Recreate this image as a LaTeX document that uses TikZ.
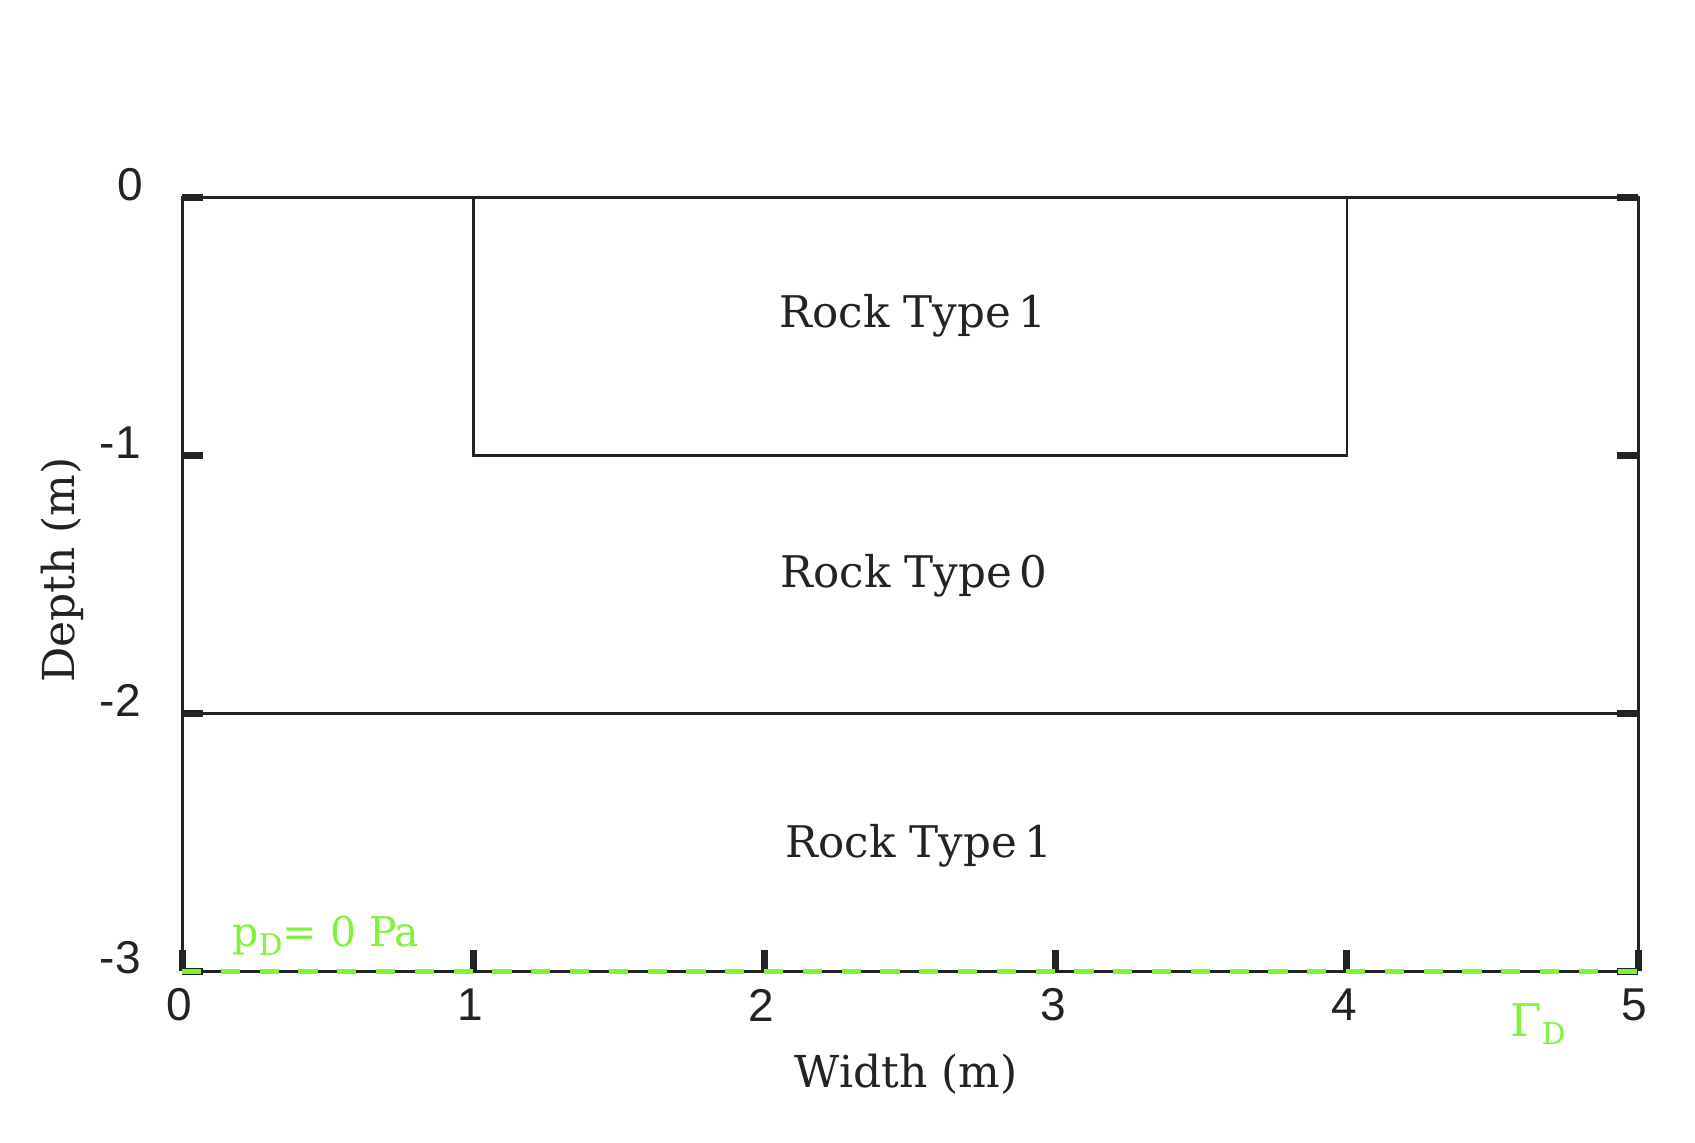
\documentclass[tikz,border=0pt]{standalone}
\usepackage{fontspec}
\setmainfont{DejaVu Serif}
\newfontfamily\ticksans{Liberation Sans}
\definecolor{bcgreen}{RGB}{128,242,58}
\definecolor{axgray}{RGB}{35,35,35}
\newcommand{\lowsub}[1]{\raisebox{-0.4ex}{\fontsize{15}{15}\selectfont #1}}
\begin{document}
\begin{tikzpicture}[x=0.5pt,y=-0.5pt,
  axisline/.style={draw=axgray,line width=1.5pt},
  innerline/.style={draw=axgray,line width=1.3pt},
  tickmark/.style={draw=axgray,line width=3.5pt},
  ticklabel/.style={font=\ticksans\fontsize{23}{26}\selectfont,text=axgray,inner sep=0pt},
  rocklabel/.style={font=\fontsize{21.8}{24}\selectfont,text=axgray,inner sep=0pt},
  axislabel/.style={font=\fontsize{22}{26}\selectfont,text=axgray,inner sep=0pt},
  bclabel/.style={font=\fontsize{20.5}{24}\selectfont,text=bcgreen,inner sep=0pt},
  bcline/.style={draw=bcgreen,line width=2.5pt,dash pattern=on 9.6pt off 9.8pt}]
\useasboundingbox (0,0) rectangle (1695,1143);
\fill[white] (0,0) rectangle (1695,1143);
% corners
\coordinate (TL) at (182,198);
\coordinate (TR) at (1638,198);
\coordinate (BL) at (182,971);
\coordinate (BR) at (1638,971);
% inner block
\coordinate (IA) at (473.2,198);
\coordinate (IB) at (1346.8,198);
\coordinate (IC) at (1346.8,455.7);
\coordinate (ID) at (473.2,455.7);
\coordinate (LL) at (182,713.3);
\coordinate (LR) at (1638,713.3);
% ticks (drawn first, under lines)
\foreach \yy in {198,455.7,713.3,971}{
  \draw[tickmark] (182,\yy) -- (203,\yy);
  \draw[tickmark] (1638,\yy) -- (1617,\yy);
}
\foreach \xx in {182,473.2,764.4,1055.6,1346.8,1638}{
  \draw[tickmark] (\xx,971) -- (\xx,950);
}
% lines
\draw[innerline] (IA) -- (ID) -- (IC) -- (IB);
\draw[innerline] (LL) -- (LR);
\draw[axisline] (BL) -- (TL) -- (TR) -- (BR);
\draw[axisline] (BL) -- (BR);
\draw[bcline] (BL) -- (BR);
% tick labels
\node[ticklabel,anchor=east] (y0) at (143,185) {0};
\node[ticklabel,anchor=east] (y1) at (141,443) {-1};
\node[ticklabel,anchor=east] (y2) at (141,700) {-2};
\node[ticklabel,anchor=east] (y3) at (141,958) {-3};
\node[ticklabel] (x0) at (179,1005) {0};
\node[ticklabel] (x1) at (470,1005) {1};
\node[ticklabel] (x2) at (761,1005) {2};
\node[ticklabel] (x3) at (1053,1005) {3};
\node[ticklabel] (x4) at (1344,1005) {4};
\node[ticklabel] (x5) at (1634,1005) {5};
% region labels
\node[rocklabel] (r1) at (913,316) {Rock Type\,1};
\node[rocklabel] (r0) at (914,576) {Rock Type\,0};
\node[rocklabel] (r2) at (919,846) {Rock Type\,1};
% axis labels
\node[axislabel] (xl) at (906,1074) {Width (m)};
\node[axislabel,rotate=90] (yl) at (62,570) {Depth (m)};
% boundary labels
\node[bclabel,anchor=west] (pd) at (232,936) {p\lowsub{D}= 0 Pa};
\node[bclabel,anchor=west] (gd) at (1510,1024) {{\fontsize{22.5}{24}\selectfont Γ}\lowsub{D}};
\end{tikzpicture}
\end{document}
